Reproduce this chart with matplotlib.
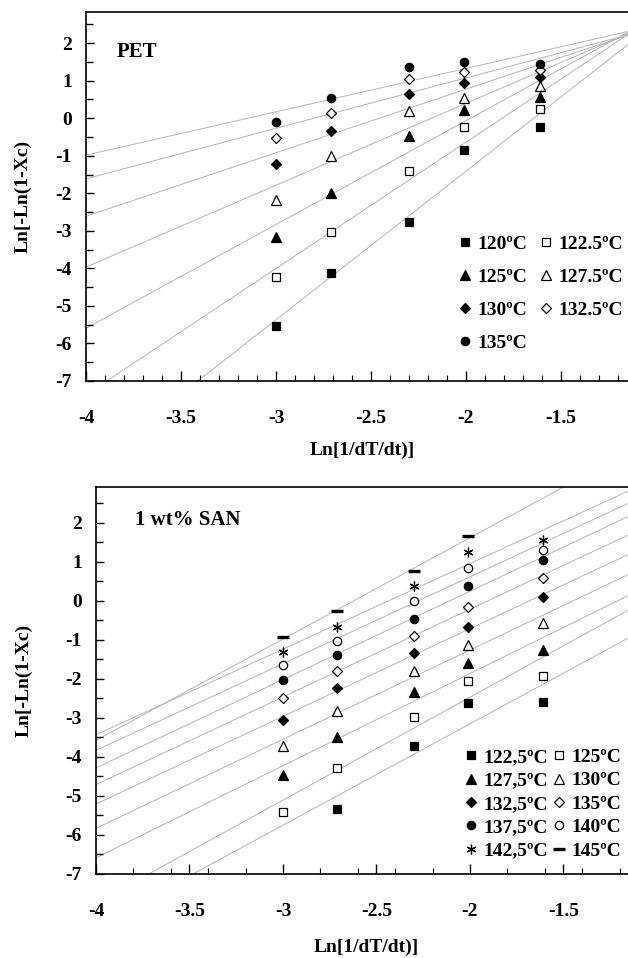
import numpy as np
import matplotlib
matplotlib.use("Agg")
import matplotlib.pyplot as plt
from matplotlib.ticker import MultipleLocator, FixedLocator

plt.rcParams['font.family'] = ['Liberation Serif', 'DejaVu Serif']
plt.rcParams['font.weight'] = 'bold'

# --- data: x = Ln[1/(dT/dt)] for the five cooling rates ---
x_rates = [-3.0, -2.71, -2.30, -2.01, -1.61]

# PET
pet_labels = ['120ºC', '122.5ºC', '125ºC', '127.5ºC', '130ºC', '132.5ºC', '135ºC']
pet_120 = [-5.53, -4.13, -2.77, -0.85, -0.23]
pet_1225 = [-4.24, -3.04, -1.41, -0.23, 0.24]
pet_125 = [-3.16, -1.99, -0.48, 0.22, 0.57]
pet_1275 = [-2.18, -1.00, 0.19, 0.55, 0.86]
pet_130 = [-1.23, -0.34, 0.64, 0.95, 1.09]
pet_1325 = [-0.52, 0.14, 1.04, 1.24, 1.28]
pet_135 = [-0.11, 0.55, 1.37, 1.50, 1.44]
pet_series = [pet_120, pet_1225, pet_125, pet_1275, pet_130, pet_1325, pet_135]

# 1 wt% SAN (nan = no point at that rate)
san_labels = ['122,5ºC', '125ºC', '127,5ºC', '130ºC', '132,5ºC',
              '135ºC', '137,5ºC', '140ºC', '142,5ºC', '145ºC']
san_1225 = [np.nan, -5.34, -3.71, -2.61, -2.58]
san_125 = [-5.42, -4.29, -2.97, -2.04, -1.92]
san_1275 = [-4.46, -3.49, -2.34, -1.60, -1.27]
san_130 = [-3.72, -2.81, -1.80, -1.12, -0.57]
san_1325 = [-3.05, -2.24, -1.34, -0.68, 0.09]
san_135 = [-2.50, -1.79, -0.89, -0.15, 0.60]
san_1375 = [-2.02, -1.39, -0.47, 0.39, 1.04]
san_140 = [-1.64, -1.04, -0.01, 0.85, 1.30]
san_1425 = [-1.32, -0.66, 0.38, 1.25, 1.56]
san_145 = [-0.93, -0.26, 0.76, 1.66, np.nan]
san_series = [san_1225, san_125, san_1275, san_130, san_1325,
              san_135, san_1375, san_140, san_1425, san_145]

# marker styles (marker, filled, size)
pet_styles = [('s', True, 6), ('s', False, 6), ('^', True, 7), ('^', False, 7),
              ('D', True, 5), ('D', False, 5), ('o', True, 6)]
san_styles = [('s', True, 6), ('s', False, 6), ('^', True, 7), ('^', False, 7),
              ('D', True, 5), ('D', False, 5), ('o', True, 6), ('o', False, 6),
              ((6, 2, 0), False, 7), ('_', True, 8)]

FS = 14

fig = plt.figure(figsize=(6.28, 9.58), dpi=100)
ax1 = fig.add_axes([86 / 628, 1 - 381 / 958, 1 - 86 / 628, 369 / 958])
ax2 = fig.add_axes([96 / 628, 1 - 874 / 958, 1 - 96 / 628, 387 / 958])


def draw_panel(ax, series, labels, styles, xmax, ymax):
    xs = np.array(x_rates)
    xfit = np.linspace(-4.2, -0.8, 50)
    handles = []
    for ys, lab, (mk, filled, ms) in zip(series, labels, styles):
        ys = np.array(ys)
        ok = ~np.isnan(ys)
        k, b = np.polyfit(xs[ok], ys[ok], 1)
        ax.plot(xfit, k * xfit + b, color='#b4b4b4', lw=0.7, zorder=1)
        kw = dict(marker=mk, markersize=ms, linestyle='none', zorder=3,
                  markeredgecolor='black', markeredgewidth=0.9)
        kw['markerfacecolor'] = 'black' if filled else 'white'
        if mk == '_':
            kw['markeredgewidth'] = 2.4
        h, = ax.plot(xs[ok], ys[ok], label=lab, **kw)
        handles.append(h)
    ax.set_xlim(-4, xmax)
    ax.set_ylim(-7, ymax)
    ax.yaxis.set_major_locator(FixedLocator(np.arange(-7, 3, 1)))
    ax.yaxis.set_minor_locator(MultipleLocator(0.5))
    ax.xaxis.set_major_locator(FixedLocator([-4, -3.5, -3, -2.5, -2, -1.5]))
    ax.set_xticklabels(['-4', '-3.5', '-3', '-2.5', '-2', '-1.5'])
    ax.set_yticklabels([str(v) for v in range(-7, 3)])
    ax.tick_params(which='both', direction='in', labelsize=FS)
    ax.tick_params(axis='x', which='major', length=7, width=1, pad=21)
    ax.tick_params(axis='x', which='minor', length=4, width=0.8)
    ax.tick_params(axis='y', which='both', length=6, width=1, pad=10)
    ax.tick_params(axis='y', which='minor', length=5)
    ax.spines['right'].set_visible(False)
    for s in ['left', 'bottom', 'top']:
        ax.spines[s].set_linewidth(1.2)
    ax.set_xlabel('Ln[1/dT/dt)]', fontsize=FS, fontweight='bold')
    ax.set_ylabel('Ln[-Ln(1-Xc)', fontsize=FS, fontweight='bold')
    return handles


h1 = draw_panel(ax1, pet_series, pet_labels, pet_styles, -1.147, 2.83)
ax1.xaxis.set_minor_locator(MultipleLocator(0.1))
ax1.text(-3.84, 1.76, 'PET', fontsize=15, fontweight='bold', va='center')
ax1.xaxis.set_label_coords(0.509, -0.165)
ax1.yaxis.set_label_coords(-0.10, 0.5)
# legend filled row-wise: reorder for column-wise layout
order1 = [0, 2, 4, 6, 1, 3, 5]
ax1.legend([h1[i] for i in order1], [pet_labels[i] for i in order1], ncol=2,
           frameon=False, loc='upper left', bbox_to_anchor=(0.675, 0.415),
           fontsize=FS, handlelength=0.6, handletextpad=0.3,
           columnspacing=0.7, labelspacing=0.78, borderaxespad=0)

h2 = draw_panel(ax2, san_series, san_labels, san_styles, -1.155, 2.92)
ax2.xaxis.set_minor_locator(MultipleLocator(0.2))
ax2.text(-3.79, 2.08, '1 wt% SAN', fontsize=15, fontweight='bold', va='center')
ax2.xaxis.set_label_coords(0.508, -0.168)
ax2.yaxis.set_label_coords(-0.12, 0.5)
order2 = [0, 2, 4, 6, 8, 1, 3, 5, 7, 9]
ax2.legend([h2[i] for i in order2], [san_labels[i] for i in order2], ncol=2,
           frameon=False, loc='upper left', bbox_to_anchor=(0.68, 0.345),
           fontsize=FS, handlelength=0.6, handletextpad=0.3,
           columnspacing=0.3, labelspacing=0.3, borderaxespad=0)

fig.savefig('out.png', dpi=100, facecolor='white')
